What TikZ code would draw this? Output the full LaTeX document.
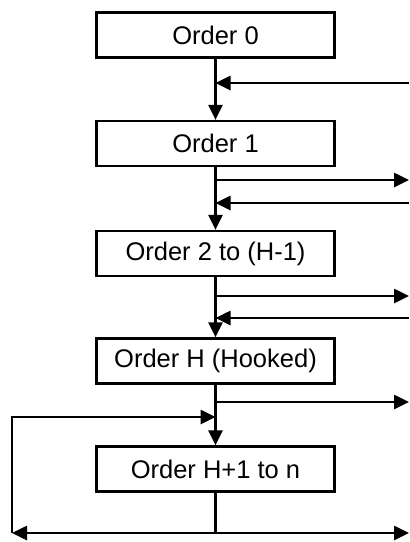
\documentclass[tikz,border=0pt]{standalone}
\usepackage{fontspec}
\setmainfont{Liberation Sans}
\usetikzlibrary{arrows.meta}
\begin{document}
\begin{tikzpicture}[x=1pt,y=-1pt,
  box/.style={draw,line width=2.2pt,minimum width=238pt,minimum height=45pt,inner sep=0pt,font=\fontsize{25.5}{30}\selectfont},
  conn/.style={line width=2.6pt},
  arr/.style={conn,-{Triangle[length=15pt,width=14pt]}},
  arrboth/.style={conn,{Triangle[length=15pt,width=14pt]}-{Triangle[length=15pt,width=14pt]}}]
\useasboundingbox (0,0) rectangle (410,542);
\node[box] (b0) at (215.5,35) {Order 0};
\node[box] (b1) at (215.5,143.5) {Order 1};
\node[box] (b2) at (215.5,253.5) {Order 2 to (H-1)};
\node[box] (bH) at (215.5,361) {Order H (Hooked)};
\node[box] (bH1) at (215.5,469) {Order H+1 to n};
% free ends
\coordinate (in0) at (409,83);
\coordinate (out1) at (409,180);
\coordinate (in1) at (409,203);
\coordinate (out2) at (409,296);
\coordinate (in2) at (409,318);
\coordinate (outH) at (409,402);
\coordinate (loopL) at (12,533);
\coordinate (loopT) at (12,417);
\coordinate (botR) at (409,533);
% trunk
\draw[arr] (b0.south) -- (b1.north);
\draw[arr] (b1.south) -- (b2.north);
\draw[arr] (b2.south) -- (bH.north);
\draw[arr] (bH.south) -- (bH1.north);
\draw[conn] (bH1.south) -- (bH1.south |- botR);
% side arrows
\draw[arr] (in0) -- (b0.south |- in0);
\draw[arr] (b1.south |- out1) -- (out1);
\draw[arr] (in1) -- (b1.south |- in1);
\draw[arr] (b2.south |- out2) -- (out2);
\draw[arr] (in2) -- (b2.south |- in2);
\draw[arr] (bH.south |- outH) -- (outH);
\draw[arr] (loopL) -- (loopT) -- (bH.south |- loopT);
\draw[arrboth] (loopL) -- (botR);
\end{tikzpicture}
\end{document}
